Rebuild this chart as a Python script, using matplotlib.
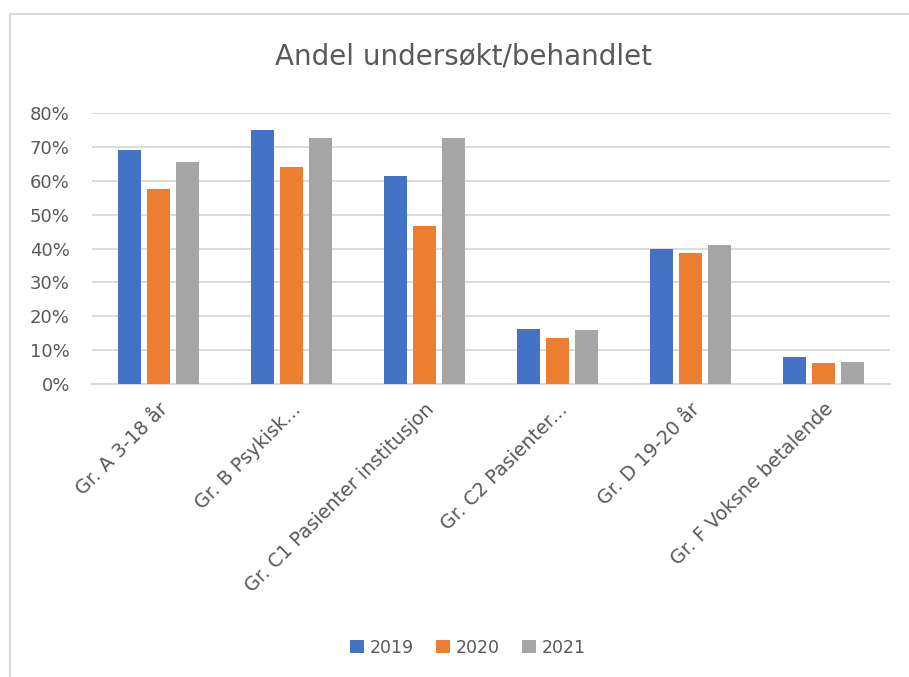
import matplotlib.pyplot as plt
import numpy as np
from matplotlib.lines import Line2D

plt.rcParams['font.family'] = ['DejaVu Sans']

categories = ["Gr. A 3-18 år", "Gr. B Psykisk...", "Gr. C1 Pasienter institusjon",
              "Gr. C2 Pasienter...", "Gr. D 19-20 år", "Gr. F Voksne betalende"]
years = ["2019", "2020", "2021"]
v2019 = [0.690, 0.749, 0.613, 0.162, 0.400, 0.080]
v2020 = [0.575, 0.640, 0.465, 0.136, 0.387, 0.062]
v2021 = [0.656, 0.726, 0.725, 0.160, 0.410, 0.066]
colors = ["#4472C4", "#ED7D31", "#A5A5A5"]
grey = "#595959"

fig = plt.figure(figsize=(9.09, 6.77), dpi=100)
# chart frame: only top and left edges fall inside the picture
bx, by = 9.5 / 909, 1 - 14 / 677
fig.add_artist(Line2D([bx, 1.0], [by, by], transform=fig.transFigure,
                      color="#D9D9D9", linewidth=1.5))
fig.add_artist(Line2D([bx, bx], [0.0, by], transform=fig.transFigure,
                      color="#D9D9D9", linewidth=1.5))
ax = fig.add_axes([0.1012, 0.4323, 0.8779, 0.4012])

x = np.arange(len(categories))
width = 0.173
step = 0.22
for i, (vals, c) in enumerate(zip([v2019, v2020, v2021], colors)):
    ax.bar(x + (i - 1) * step, vals, width, color=c, label=years[i], zorder=3)

ax.set_xlim(-0.5, len(categories) - 0.5)
ax.set_ylim(0, 0.8)
ax.set_yticks(np.arange(0, 0.81, 0.1))
ax.set_yticklabels([f"{int(round(t * 100))}%" for t in np.arange(0, 0.81, 0.1)])
ax.yaxis.grid(True, color="#D9D9D9", linewidth=1.3, zorder=0)
ax.set_xticks(x)
ax.set_xticklabels(categories, rotation=45, ha="right", va="top", rotation_mode="anchor")
for s in ["top", "right", "left"]:
    ax.spines[s].set_visible(False)
ax.spines["bottom"].set_color("#D9D9D9")
ax.spines["bottom"].set_linewidth(1.3)
ax.tick_params(axis="both", length=0, colors=grey)
ax.tick_params(axis="x", pad=11, labelsize=13.8)
ax.tick_params(axis="y", pad=16, labelsize=13)

fig.text(0.51, 0.916, "Andel undersøkt/behandlet", ha="center", va="center",
         fontsize=20, color=grey)

fig.legend(loc="center", bbox_to_anchor=(0.515, 0.043), ncol=3, frameon=False,
           fontsize=12.5, labelcolor=grey, handlelength=0.8, handleheight=0.8,
           handletextpad=0.35, columnspacing=1.26)

fig.savefig("out.png", dpi=100)
